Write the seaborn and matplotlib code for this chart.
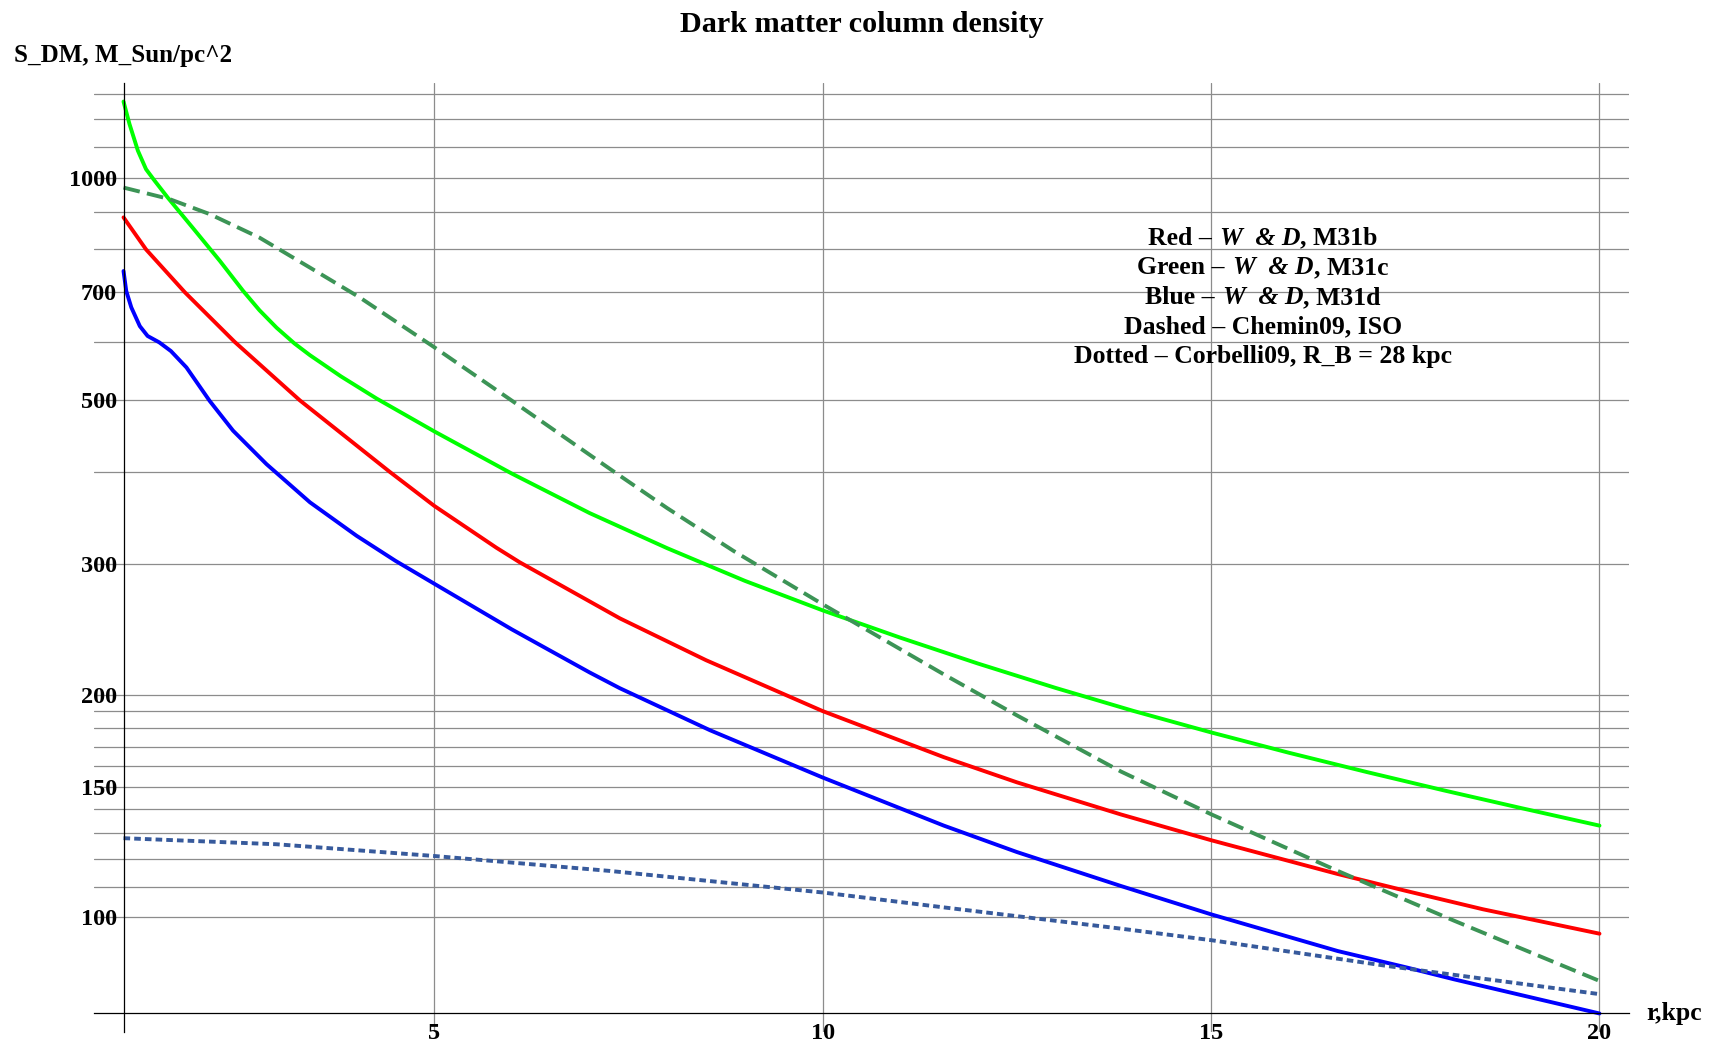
import numpy as np
import pandas as pd
import matplotlib
matplotlib.use("Agg")
import matplotlib.pyplot as plt
import seaborn as sns
from matplotlib.offsetbox import TextArea, HPacker, AnnotationBbox
from matplotlib.ticker import FixedLocator, NullFormatter, FuncFormatter

# ---------------- data ----------------
red_r = [1.0, 1.29, 1.79, 2.43, 3.27, 4.43, 5.0, 5.8, 6.1, 7.39, 8.5, 10.0, 11.56, 12.5,
         13.84, 15.0, 16.63, 17.5, 18.5, 20.0]
red_s = [884, 800, 700, 600, 500, 400, 360, 316, 302, 253.6, 222.6, 190, 164.6, 152.2,
         137.7, 127.1, 114.4, 108.6, 102.5, 95.0]

green_r = [1.0, 1.077, 1.185, 1.29, 1.40, 1.57, 1.89, 2.24, 2.54, 2.75, 2.97, 3.2, 3.4, 3.8,
           4.26, 5.0, 6.0, 7.0, 8.0, 9.0, 10.0, 11.0, 12.0, 13.0, 14.0, 15.0, 16.0, 17.0,
           18.0, 19.0, 20.0]
green_s = [1268, 1182, 1088, 1027, 991, 940, 856, 772, 703, 662, 627, 597, 575.5, 538.7,
           502.7, 454, 398, 352, 315.5, 285, 260, 238.8, 220.3, 204.2, 190.1, 177.8, 166.9,
           157.2, 148.4, 140.4, 133.0]

blue_r = [1.0, 1.035, 1.10, 1.21, 1.31, 1.46, 1.61, 1.81, 2.11, 2.41, 2.84, 3.40, 4.0, 4.5,
          5.0, 6.0, 7.0, 7.39, 8.55, 10.0, 11.56, 12.5, 13.84, 15.0, 16.63, 17.5, 18.13, 20.0]
blue_s = [748, 703, 668, 630, 611, 599, 583, 554, 499, 455, 410, 364, 328, 303.4,
          282.5, 245, 214.3, 204, 179, 154.5, 133, 122.5, 110.2, 100.9, 90.0, 85.6, 82.4, 74.1]

chemin_r = [1.0, 1.59, 2.11, 2.75, 3.40, 4.04, 5.0, 5.97, 7.26, 8.0, 8.85, 10.0, 11.56, 12.5,
            13.84, 15.0, 16.63, 18.13, 20.0]
chemin_s = [970, 936, 893, 830, 756, 689, 590, 502, 404, 357.4, 313, 265, 213, 187.5,
            157.4, 137.8, 115.5, 98.9, 82.0]

corbelli_r = [1.0, 2.97, 5.0, 7.26, 10.0, 11.56, 13.84, 15.0, 17.27, 20.0]
corbelli_s = [127.9, 125.5, 121.0, 115.5, 108.0, 103.1, 96.5, 93.1, 85.9, 78.7]

x_major = [5, 10, 15, 20]
x_minor = [2, 3, 4, 6, 7, 8, 9, 11, 12, 13, 14, 16, 17, 18, 19]
y_major = [100, 150, 200, 300, 500, 700, 1000]
y_minor = [110, 120, 130, 140, 160, 170, 180, 190, 400, 600, 800, 900, 1100, 1200, 1300]

title = "Dark matter column density"
ylabel = "S_DM, M_Sun/pc^2"
xlabel = "r,kpc"
legend_colors = ["Red", "Green", "Blue"]
legend_models = ["M31b", "M31c", "M31d"]
legend_author = "W  & D"
legend_extra = ["Dashed \u2013 Chemin09, ISO", "Dotted \u2013 Corbelli09, R_B = 28 kpc"]

# ---------------- style ----------------
sns.set_style("white")
SERIF = ["Liberation Serif", "DejaVu Serif"]
plt.rcParams["font.family"] = SERIF
plt.rcParams["font.weight"] = "bold"

W, H = 1714, 1044
fig = plt.figure(figsize=(W / 100, H / 100), dpi=100)
ax = fig.add_axes([94 / W, 1 - 1031.7 / H, 1535 / W, (1031.7 - 83.3) / H])

LW = 2.8
series = [
    (red_r, red_s, "#ff0000", "-"),
    (green_r, green_s, "#00ff00", "-"),
    (blue_r, blue_s, "#0000ff", "-"),
    (chemin_r, chemin_s, "#3c9456", (0, (4.3, 1.9))),
    (corbelli_r, corbelli_s, "#375a9c", (0, (1.7, 1.05))),
]
for r, s, c, ls in series:
    df = pd.DataFrame({"r": r, "S": s})
    sns.lineplot(data=df, x="r", y="S", ax=ax, color=c, linewidth=LW, linestyle=ls,
                 estimator=None, sort=False, legend=False)

ax.set_yscale("log")

# plot range with Mathematica-like 2% padding
all_r = np.concatenate([np.asarray(a, float) for a in (red_r, green_r, blue_r, chemin_r, corbelli_r)])
all_s = np.concatenate([np.asarray(a, float) for a in (red_s, green_s, blue_s, chemin_s, corbelli_s)])
rlo, rhi = all_r.min(), all_r.max()
xp = 0.02 * (rhi - rlo)
ax.set_xlim(rlo - xp, rhi + xp)
llo, lhi = np.log10(all_s.min()), np.log10(all_s.max())
yp = 0.02 * (lhi - llo)
ax.set_ylim(10 ** (llo - yp), 10 ** (lhi + yp))

for side in ("top", "right"):
    ax.spines[side].set_visible(False)
ax.spines["left"].set_position(("data", rlo))
ax.spines["bottom"].set_position(("data", all_s.min()))
for side in ("left", "bottom"):
    ax.spines[side].set_color("black")
    ax.spines[side].set_linewidth(0.9)

ax.xaxis.set_major_locator(FixedLocator(x_major))
ax.xaxis.set_minor_locator(FixedLocator(x_minor))
ax.yaxis.set_major_locator(FixedLocator(y_major))
ax.yaxis.set_minor_locator(FixedLocator(y_minor))
fmt = FuncFormatter(lambda v, p: f"{v:g}")
ax.xaxis.set_major_formatter(fmt)
ax.yaxis.set_major_formatter(fmt)
ax.xaxis.set_minor_formatter(NullFormatter())
ax.yaxis.set_minor_formatter(NullFormatter())

ax.tick_params(axis="both", which="both", direction="in", color="black", width=0.8,
               labelsize=17.5, labelcolor="black")
ax.tick_params(axis="x", which="major", length=6.3, pad=7)
ax.tick_params(axis="x", which="minor", length=3.1)
ax.tick_params(axis="y", which="major", length=6.3, pad=4.8)
ax.tick_params(axis="y", which="minor", length=3.8)
for lab in ax.get_xticklabels() + ax.get_yticklabels():
    lab.set_fontweight("bold")
    lab.set_family(SERIF)

ax.grid(True, axis="y", which="both", color="#8c8c8c", linewidth=0.9)
ax.grid(True, axis="x", which="major", color="#8c8c8c", linewidth=0.9)
ax.set_axisbelow(True)
ax.set_xlabel("")
ax.set_ylabel("")

# texts
axc = (94 + 1629) / 2 / W
fig.text(axc, 1 - 32 / H, title, ha="center", va="baseline", fontsize=21.7,
         fontweight="bold", family=SERIF, color="black")
fig.text(14 / W, 1 - 62 / H, ylabel, ha="left", va="baseline", fontsize=18,
         fontweight="bold", family=SERIF, color="black")
fig.text(1646 / W, 1 - 1020 / H, xlabel, ha="left", va="baseline", fontsize=18.5,
         fontweight="bold", family=SERIF, color="black")

bold = dict(fontsize=18.5, fontweight="bold", family=SERIF, color="black")
boldit = dict(fontsize=18.5, fontweight="bold", style="italic", family=SERIF, color="black")
cx = 1262.8 / W
y0, dy = 238.3, 29.6
lines = []
for name, model in zip(legend_colors, legend_models):
    left = HPacker(children=[TextArea(f"{name} \u2013", textprops=bold),
                             TextArea(legend_author, textprops=boldit)],
                   sep=6, pad=0, align="baseline")
    lines.append(HPacker(children=[left, TextArea(f", {model}", textprops=bold)],
                         sep=0, pad=0, align="baseline"))
for t in legend_extra:
    lines.append(TextArea(t, textprops=bold))
for i, box in enumerate(lines):
    ab = AnnotationBbox(box, (cx, 1 - (y0 + i * dy) / H), xycoords="figure fraction",
                        frameon=False, box_alignment=(0.5, 0.5), pad=0, annotation_clip=False)
    ax.add_artist(ab)

fig.savefig("out.png", dpi=100)
